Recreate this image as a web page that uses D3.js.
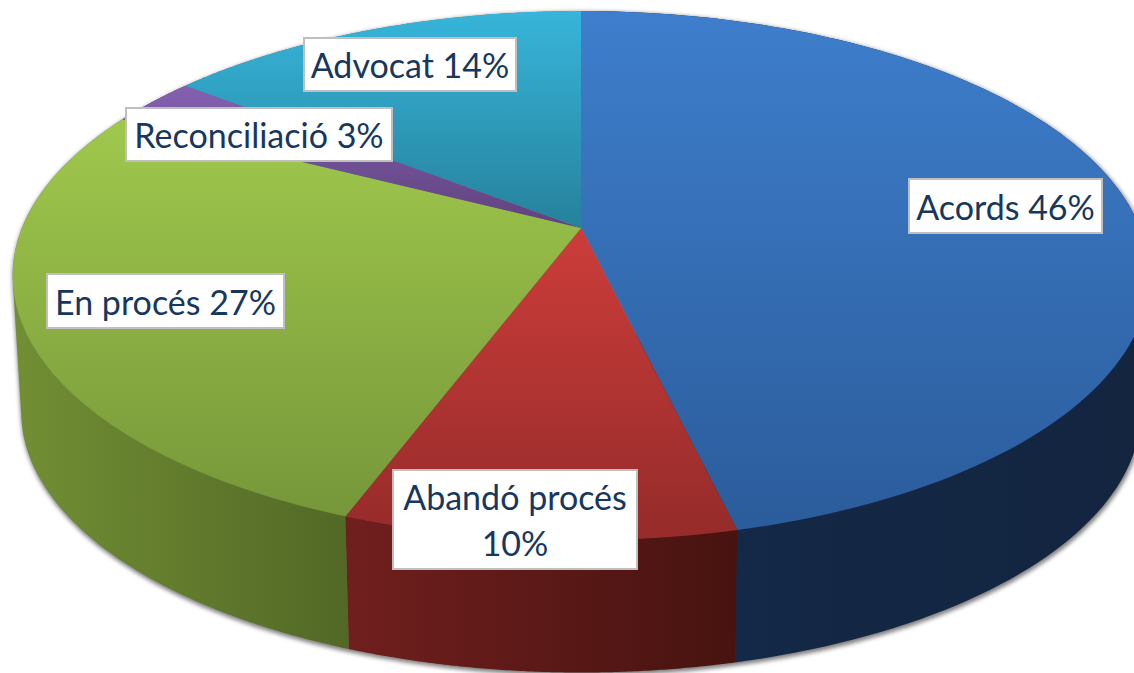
<!DOCTYPE html>
<html><head><meta charset="utf-8">
<script src="https://cdn.jsdelivr.net/npm/d3@7"></script>
<style>html,body{margin:0;background:#fff;overflow:hidden}svg{display:block}</style>
</head><body>
<svg id="c" width="1134" height="673"></svg>
<script>
const categories = ["Acords","Abandó procés","En procés","Reconciliació","Advocat"];
const shares = [46.3, 9.4, 26.9, 3.0, 14.4];
const labelLines = [["Acords 46%"],["Abandó procés","10%"],["En procés 27%"],["Reconciliació 3%"],["Advocat 14%"]];
const topColors = [["#3e7ecc","#2b5c9b"],["#cc3d3a","#952b2a"],["#a0c84c","#76973a"],["#8461b0","#5f427d"],["#37b5da","#26819c"]];
const wallStops = [["#14294a","#13253f"],["#701f1e","#471310"],["#728f34","#526826"],["#5b4377","#5b4377"],["#2a8ba8","#2a8ba8"]];
const wallOrder = [0,4,3,2,1];

const W=1134,H=673,cx=581,cy=228,rx=559,ryA=256,k=0.18,shrink=0.985,drop=137;
const svg=d3.select("#c");
const defs=svg.append("defs");
const blur=defs.append("filter").attr("id","blur").attr("x","-5%").attr("y","-5%").attr("width","110%").attr("height","110%");
blur.append("feGaussianBlur").attr("stdDeviation",2.2);

const pie=d3.pie().sort(null).value(d=>d)(shares);
pie.forEach((s,i)=>s.idx=i);
const project=(t,r=1)=>{const u=r*Math.sin(t),v=-r*Math.cos(t),d=1-k*v;
  return [cx+rx*u/d, cy+ryA*v/d];};
const lower=([x,y])=>[cx+shrink*(x-cx), cy+shrink*(y-cy)+drop];
const line=d3.line();
const samples=(a,b)=>d3.range(0,121).map(i=>a+(b-a)*i/120);
const hullOf=(a,b)=>{const ts=samples(a,b);
  return d3.polygonHull(ts.map(t=>project(t)).concat(ts.map(t=>lower(project(t)))));};

// soft shadow under the disc
svg.append("path")
 .attr("d",line(hullOf(0,2*Math.PI))+"Z")
 .attr("fill","#555").attr("stroke","#555").attr("stroke-width",2.5)
 .attr("transform","translate(1,2)").attr("filter","url(#blur)").attr("opacity",.75);

// gradients
pie.forEach((s,i)=>{
  const g=defs.append("linearGradient").attr("id","top"+i).attr("x1",0).attr("y1",0).attr("x2",0).attr("y2",1);
  g.append("stop").attr("offset",0).attr("stop-color",topColors[i][0]);
  g.append("stop").attr("offset",1).attr("stop-color",topColors[i][1]);
  const w=defs.append("linearGradient").attr("id","wall"+i).attr("x1",0).attr("y1",0).attr("x2",1).attr("y2",0);
  w.append("stop").attr("offset",0).attr("stop-color",wallStops[i][0]);
  w.append("stop").attr("offset",1).attr("stop-color",wallStops[i][1]);
});

// walls, back to front
svg.append("g").selectAll("path").data(wallOrder.map(i=>pie[i])).join("path")
 .attr("d",s=>line(hullOf(s.startAngle,s.endAngle))+"Z")
 .attr("fill",s=>`url(#wall${s.idx})`);

// top faces
svg.append("g").selectAll("path").data(pie).join("path")
 .attr("d",s=>line([[cx,cy]].concat(samples(s.startAngle,s.endAngle).map(t=>project(t))))+"Z")
 .attr("fill",s=>`url(#top${s.idx})`);

// labels
const labelBoxes=[[909,179,193,54],[393,470,244,99],[47,274,237,54],[126,108,266,53],[304,38,212,53]];
const lab=svg.append("g").selectAll("g").data(categories).join("g");
lab.append("rect")
 .attr("x",(d,i)=>labelBoxes[i][0]).attr("y",(d,i)=>labelBoxes[i][1])
 .attr("width",(d,i)=>labelBoxes[i][2]).attr("height",(d,i)=>labelBoxes[i][3])
 .attr("fill","#fff").attr("stroke","#bfbfbf").attr("stroke-width",2);
lab.each(function(d,i){
  const b=labelBoxes[i],ls=labelLines[i],g=d3.select(this),lh=46;
  ls.forEach((t,j)=>{
    const el=g.append("text").text(t)
     .attr("x",b[0]+b[2]/2)
     .attr("y",b[1]+b[3]/2+1.5+(j-(ls.length-1)/2)*lh)
     .attr("dy","0.35em").attr("text-anchor","middle")
     .attr("font-family","Lato, sans-serif").attr("font-size",35)
     .attr("fill","#17375e");
    el.attr("textLength",el.node().getComputedTextLength()*0.972).attr("lengthAdjust","spacingAndGlyphs");
  });
});
</script>
</body></html>
